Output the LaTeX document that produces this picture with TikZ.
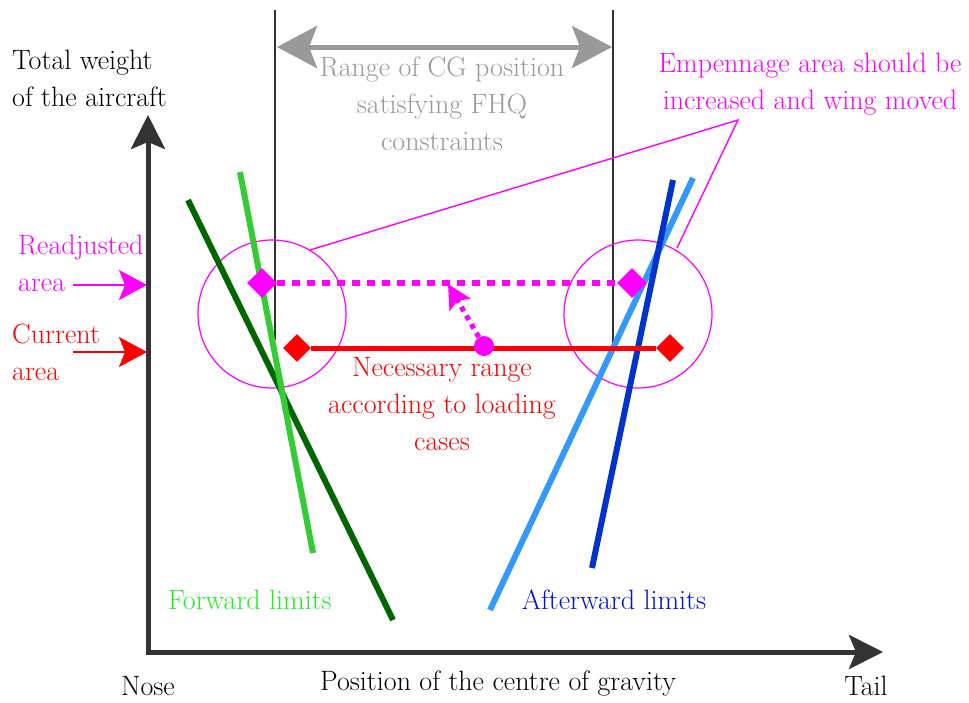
\documentclass[tikz,border=0pt]{standalone}
\usetikzlibrary{arrows.meta,shapes.geometric}
\definecolor{axisgray}{HTML}{333333}
\definecolor{rangegray}{HTML}{999999}
\definecolor{mag}{HTML}{FF00FF}
\definecolor{redc}{HTML}{FF0000}
\definecolor{lgreen}{HTML}{33CC33}
\definecolor{dgreen}{HTML}{006600}
\definecolor{tgreen}{HTML}{22EE22}
\definecolor{lblue}{HTML}{3399FF}
\definecolor{dblue}{HTML}{0033CC}
\definecolor{tblue}{HTML}{0011DD}
\tikzset{
  axisline/.style={line width=5pt, draw=axisgray, line join=miter},
  thinline/.style={line width=1.6pt, draw=axisgray},
  maglead/.style={line width=1.4pt, draw=mag},
  limitline/.style={line width=6pt},
  lbl/.style={font=\fontsize{28}{37}\selectfont, inner sep=0pt},
  dmd/.style={diamond, fill=#1, minimum width=30pt, minimum height=30pt, inner sep=0pt},
  sidearrow/.style={line width=1.6pt, -{Stealth[length=28pt,width=30pt,inset=6pt]}}
}
\begin{document}
\begin{tikzpicture}[x=1pt,y=-1pt]
\useasboundingbox (0,0) rectangle (969,702);

% axes
\coordinate (O) at (148,652);
\coordinate (ytip) at (148,115);
\coordinate (xtip) at (883,652);
\draw[axisline, {Stealth[length=34pt,width=34pt,inset=7pt]}-{Stealth[length=34pt,width=34pt,inset=7pt]}] (ytip) -- (O) -- (xtip);

% CG range verticals
\coordinate (vlt) at (275,10);
\coordinate (vlb) at (275,340);
\coordinate (vrt) at (613,10);
\coordinate (vrb) at (613,350);
\draw[thinline] (vlt) -- (vlb);
\draw[thinline] (vrt) -- (vrb);
\coordinate (gl) at (277,47);
\coordinate (gr) at (612,47);
\draw[line width=5pt, draw=rangegray, {Stealth[length=40pt,width=42pt,inset=8pt]}-{Stealth[length=40pt,width=42pt,inset=8pt]}] (gl) -- (gr);
\node[lbl, text=rangegray, align=center] (rangetxt) at (442,104) {Range of CG position\\satisfying FHQ\\constraints};

% circles
\node[circle, draw=mag, line width=1.2pt, minimum size=148pt, inner sep=0pt] (cl) at (272,314) {};
\node[circle, draw=mag, line width=1.2pt, minimum size=148pt, inner sep=0pt] (cr) at (638,314) {};

% leader lines
\coordinate (apex) at (738,120);
\coordinate (ll) at (310,250);
\coordinate (lr) at (677,248);
\draw[maglead] (ll) -- (apex) -- (lr);
\node[lbl, text=mag, align=center] (emp) at (810,84) {Empennage area should be\\increased and wing moved};

% limit lines
\coordinate (dg1) at (188,200);
\coordinate (dg2) at (393,620);
\coordinate (lg1) at (240,172);
\coordinate (lg2) at (313,553);
\draw[limitline, draw=dgreen] (dg1) -- (dg2);
\draw[limitline, draw=lgreen] (lg1) -- (lg2);
\coordinate (lb1) at (693,178);
\coordinate (lb2) at (490,610);
\coordinate (db1) at (673,180);
\coordinate (db2) at (592,568);
\draw[limitline, draw=lblue] (lb1) -- (lb2);
\draw[limitline, draw=dblue] (db1) -- (db2);

% readjusted range
\node[dmd=mag] (ml) at (262,283) {};
\node[dmd=mag] (mr) at (632,283) {};
\draw[mag, line width=6pt, dash pattern=on 8pt off 7pt] (ml.east) -- (mr.west);

% current range
\node[dmd=redc, minimum width=28pt, minimum height=28pt] (rl) at (297,348) {};
\node[dmd=redc, minimum width=28pt, minimum height=28pt] (rr) at (670,348) {};
\draw[redc, line width=5pt] (rl.east) -- (rr.west);

% shift arrow
\node[circle, fill=mag, minimum size=20pt, inner sep=0pt] (dot) at (484,346) {};
\coordinate (shift) at (448,284);
\draw[mag, line width=5pt, dash pattern=on 5pt off 5pt, -{Stealth[length=24pt,width=24pt,inset=5pt]}] (dot) -- (shift);
\node[lbl, text=redc, align=center] (need) at (442,404) {Necessary range\\according to loading\\cases};

% left labels
\node[lbl, align=left, anchor=west] (tw) at (12,78) {Total weight\\of the aircraft};
\node[lbl, text=mag, align=left, anchor=west] (readj) at (18,263) {Readjusted\\area};
\coordinate (ra0) at (73,285);
\coordinate (ra1) at (147,285);
\draw[sidearrow, mag] (ra0) -- (ra1);
\node[lbl, text=redc, align=left, anchor=west] (curr) at (12,352) {Current\\area};
\coordinate (ca0) at (73,352);
\coordinate (ca1) at (147,352);
\draw[sidearrow, redc] (ca0) -- (ca1);

% bottom labels
\node[lbl, text=tgreen] (fwd) at (250,600) {Forward limits};
\node[lbl, text=tblue] (aft) at (614,600) {Afterward limits};
\node[lbl] (nose) at (148,686) {Nose};
\node[lbl] (pos) at (498,684) {Position of the centre of gravity};
\node[lbl] (tail) at (866,686) {Tail};
\end{tikzpicture}
\end{document}
